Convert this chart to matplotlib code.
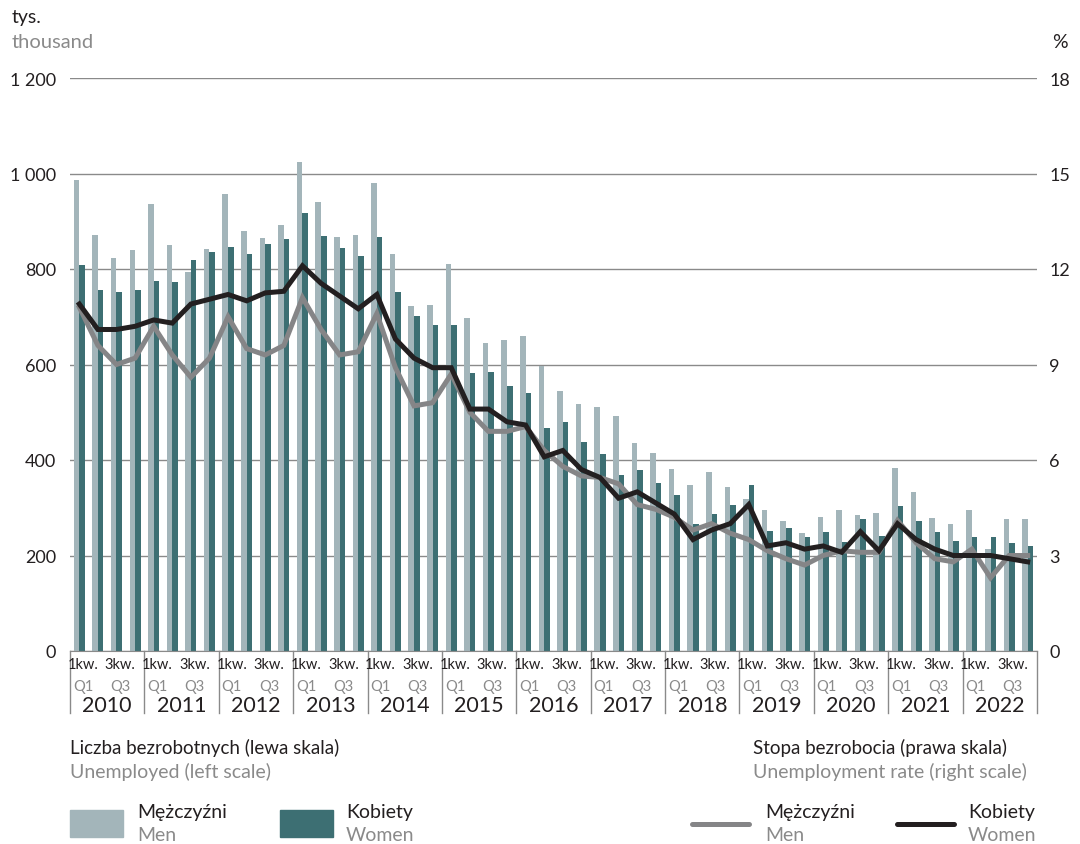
import matplotlib
matplotlib.use('Agg')
import matplotlib.pyplot as plt
import numpy as np
from matplotlib.patches import Rectangle
from matplotlib.lines import Line2D

# quarterly data 2010-2022 (Q1..Q4 each year)
years = [str(y) for y in range(2010, 2023)]

# unemployed, thousands
men_count = [986, 872, 824, 839,
             937, 851, 793, 841,
             958, 880, 864, 893,
             1024, 941, 867, 872,
             980, 831, 722, 725,
             810, 697, 645, 652,
             659, 597, 545, 518,
             512, 492, 435, 414,
             382, 348, 374, 343,
             318, 295, 273, 247,
             280, 295, 284, 289,
             383, 333, 279, 265,
             296, 214, 276, 277]
women_count = [808, 755, 752, 755,
               775, 772, 818, 836,
               847, 832, 852, 862,
               918, 869, 845, 827,
               866, 751, 702, 682,
               682, 582, 585, 556,
               541, 466, 479, 438,
               413, 368, 380, 351,
               327, 266, 286, 305,
               347, 251, 257, 238,
               250, 229, 277, 240,
               304, 273, 250, 231,
               238, 238, 226, 220]

# unemployment rate, %
men_rate = [10.8, 9.6, 9.0, 9.2,
            10.2, 9.3, 8.6, 9.2,
            10.5, 9.5, 9.3, 9.6,
            11.1, 10.1, 9.3, 9.4,
            10.6, 8.9, 7.7, 7.8,
            8.7, 7.5, 6.9, 6.9,
            7.05, 6.3, 5.8, 5.5,
            5.45, 5.25, 4.6, 4.45,
            4.2, 3.8, 4.0, 3.7,
            3.5, 3.15, 2.9, 2.7,
            3.0, 3.15, 3.1, 3.1,
            4.1, 3.4, 2.9, 2.8,
            3.2, 2.3, 3.0, 3.0]
women_rate = [10.9, 10.1, 10.1, 10.2,
              10.4, 10.3, 10.9, 11.05,
              11.2, 11.0, 11.25, 11.3,
              12.1, 11.55, 11.15, 10.75,
              11.2, 9.8, 9.2, 8.9,
              8.9, 7.6, 7.6, 7.2,
              7.1, 6.1, 6.3, 5.7,
              5.45, 4.8, 5.0, 4.65,
              4.3, 3.5, 3.8, 4.0,
              4.6, 3.3, 3.4, 3.2,
              3.3, 3.1, 3.75, 3.15,
              4.0, 3.5, 3.2, 3.0,
              3.0, 3.0, 2.9, 2.8]

left_ticks = [0, 200, 400, 600, 800, 1000, 1200]
left_labels = ['0', '200', '400', '600', '800', '1 000', '1 200']
right_ticks = [0, 3, 6, 9, 12, 15, 18]

plt.rcParams['font.family'] = ['Lato', 'DejaVu Sans']

DARK = '#231f20'
GREY = '#8a8a8a'
MEN_BAR = '#a3b5ba'
WOMEN_BAR = '#3d6f73'
MEN_LINE = '#858587'
WOMEN_LINE = '#231f20'

W, H = 1080, 845
fig = plt.figure(figsize=(W / 100, H / 100), dpi=100)


def fx(px):
    return px / W


def fy(py):
    return 1 - py / H


ax = fig.add_axes([fx(70), fy(652), fx(1037) - fx(70), fy(79) - fy(652)])
x = np.arange(len(men_count))
ax.bar(x - 0.15, men_count, width=0.3, color=MEN_BAR, zorder=2)
ax.bar(x + 0.15, women_count, width=0.3, color=WOMEN_BAR, zorder=2)
ax.set_xlim(-0.5, len(x) - 0.5)
ax.set_ylim(0, 1200)
ax.set_yticks(left_ticks)
ax.set_yticklabels(left_labels)
ax.yaxis.grid(True, color='#8a8a8a', lw=1)
ax.set_axisbelow(True)
for s in ax.spines.values():
    s.set_visible(False)
ax.spines['bottom'].set_visible(True)
ax.spines['bottom'].set_color('#8a8a8a')
ax.tick_params(axis='y', length=0, labelsize=13, labelcolor=DARK, pad=10)
ax.set_xticks([])

ax2 = ax.twinx()
ax2.plot(x, men_rate, color=MEN_LINE, lw=3.6, solid_joinstyle='miter', zorder=3)
ax2.plot(x, women_rate, color=WOMEN_LINE, lw=3.6, solid_joinstyle='miter', zorder=4)
ax2.set_ylim(0, 18)
ax2.set_yticks(right_ticks)
for s in ax2.spines.values():
    s.set_visible(False)
ax2.tick_params(axis='y', length=0, labelsize=13, labelcolor=DARK, pad=9)


# x-axis: quarter and year labels
def yfrac(py):
    return (652 - py) / (652 - 79)


tr = ax.get_xaxis_transform()
for i, yr in enumerate(years):
    for q, lab, en in [(0, '1kw.', 'Q1'), (2, '3kw.', 'Q3')]:
        ax.text(4 * i + q + 0.2, yfrac(665), lab, transform=tr, ha='center', va='center',
                fontsize=10.5, color=DARK)
        ax.text(4 * i + q + 0.2, yfrac(687), en, transform=tr, ha='center', va='center',
                fontsize=10.5, color=GREY)
    ax.text(4 * i + 1.5, yfrac(706), yr, transform=tr, ha='center', va='center',
            fontsize=15.5, color=DARK)
for b in np.arange(-0.5, len(x), 4):
    ax.plot([b, b], [0, yfrac(714)], transform=tr, clip_on=False, color=GREY, lw=1)

# axis unit labels
fig.text(fx(12), fy(18), 'tys.', fontsize=14, color=DARK, va='center')
fig.text(fx(12), fy(42), 'thousand', fontsize=14.5, color=GREY, va='center')
fig.text(fx(1052), fy(42), '%', fontsize=14, color=DARK, va='center')

# legend
fig.text(fx(70), fy(748), 'Liczba bezrobotnych (lewa skala)', fontsize=13.5, color=DARK, va='center')
fig.text(fx(70), fy(772), 'Unemployed (left scale)', fontsize=14, color=GREY, va='center')
fig.text(fx(753), fy(748), 'Stopa bezrobocia (prawa skala)', fontsize=13.5, color=DARK, va='center')
fig.text(fx(753), fy(772), 'Unemployment rate (right scale)', fontsize=14, color=GREY, va='center')

for x0, col in [(70, MEN_BAR), (280, WOMEN_BAR)]:
    fig.patches.append(Rectangle((fx(x0), fy(838)), fx(53), fy(811) - fy(838),
                                 transform=fig.transFigure, color=col))
for x0, col in [(692, MEN_LINE), (897, WOMEN_LINE)]:
    fig.lines.append(Line2D([fx(x0), fx(x0 + 57)], [fy(825), fy(825)],
                            transform=fig.transFigure, color=col, lw=3.6,
                            solid_capstyle='round'))

for x0, pl, en in [(137, 'Mężczyźni', 'Men'), (346, 'Kobiety', 'Women'),
                   (765, 'Mężczyźni', 'Men'), (968, 'Kobiety', 'Women')]:
    fig.text(fx(x0), fy(813), pl, fontsize=14, color=DARK, va='center')
    fig.text(fx(x0), fy(836), en, fontsize=14, color=GREY, va='center')

fig.savefig('out.png', dpi=100)
